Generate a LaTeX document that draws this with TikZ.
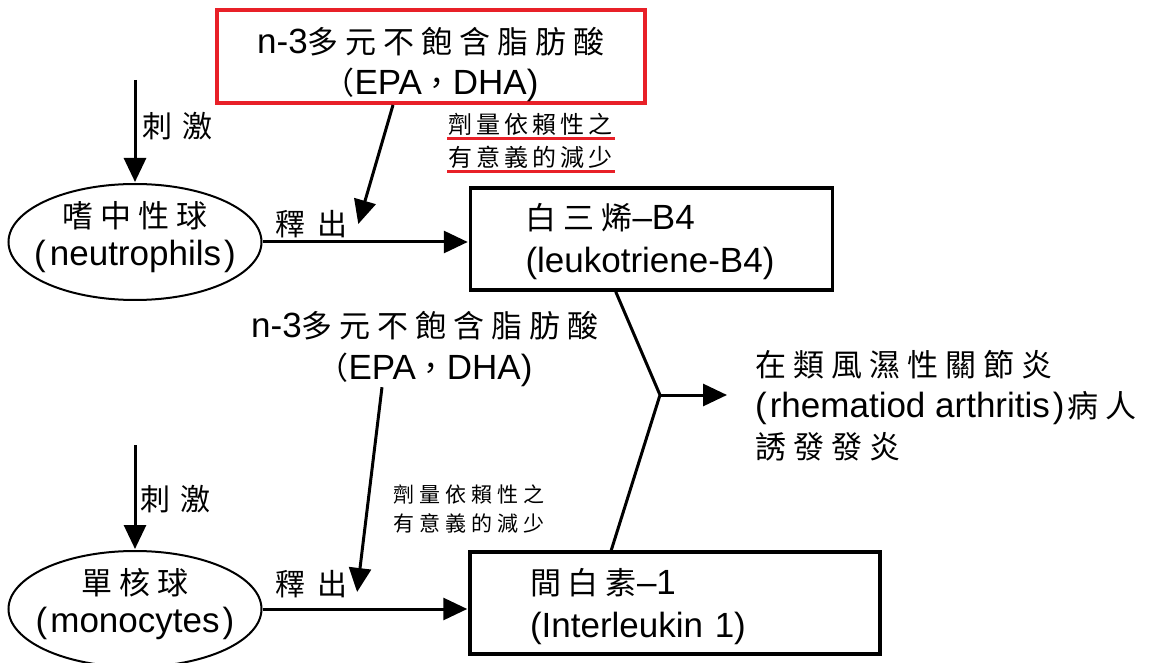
\documentclass[tikz,border=0pt]{standalone}
\usepackage{fontspec}
\setmainfont{Liberation Sans}
\newfontfamily\cjkfont{Noto Sans CJK TC}
\usetikzlibrary{arrows.meta,shapes.geometric}
\definecolor{redc}{RGB}{232,32,40}
\makeatletter
\newcommand\zhgen[3]{{\cjkfont\fontsize{#1}{#1}\selectfont\def\zh@sep{\hspace{#2}}\zh@first#3\relax}}
\def\zh@first#1{#1\zh@rest}
\def\zh@rest#1{\ifx#1\relax\else\zh@sep#1\expandafter\zh@rest\fi}
\makeatother
\newcommand\zhL[1]{\zhgen{31}{7pt}{#1}}
\newcommand\zhR[1]{\zhgen{24}{4pt}{#1}}
\newcommand\zhT[1]{\zhgen{21}{5pt}{#1}}
\begin{document}
\begin{tikzpicture}[x=1pt,y=-1pt,
  every node/.style={inner sep=0pt},
  boxnode/.style={draw,line width=3.5pt,minimum height=102pt,
    align=left,text height=33pt,text depth=51pt,
    font=\fontsize{35}{43}\selectfont},
  redbox/.style={draw=redc,line width=4pt,minimum width=428pt,minimum height=93pt,
    align=center,text height=85pt,text depth=8pt,font=\fontsize{35}{41}\selectfont},
  cell/.style={ellipse,draw,line width=2pt,minimum width=253pt,minimum height=116pt,
    inner xsep=-40pt,inner ysep=0pt,align=center,font=\fontsize{35}{38}\selectfont},
  plain/.style={align=center,font=\fontsize{35}{42}\selectfont},
  arr/.style={line width=3pt,-{Triangle[length=24pt,width=22pt]},shorten >=1pt},
  ln/.style={line width=3pt},
  redline/.style={draw=redc,line width=3pt},
]
\useasboundingbox[fill=white] (0,0) rectangle (1163,663);

% nodes
\node[redbox] (top) at (431,56.5)
  {n-3\zhL{多元不飽含脂肪酸}\\\zhL{（}EPA\zhL{，}DHA)};
\node[cell,text height=56pt,text depth=8pt] (e1) at (135,242)
  {\zhL{嗜中性球}\\(\hspace{4pt}neutrophils\hspace{3pt})};
\node[cell,text height=54pt,text depth=8pt] (e2) at (135,609)
  {\zhL{單核球}\\(\hspace{3pt}monocytes\hspace{3pt})};
\node[boxnode,minimum width=362pt,text width=252pt] (box1) at (651.5,239)
  {\zhL{白三烯}–B4\\(leukotriene-B4)};
\node[boxnode,minimum width=410pt,text width=290pt] (box2) at (675,603)
  {\zhL{間白素}–1\\(Interleukin 1)};
\node[plain,text height=72pt,text depth=8pt] (n3b) at (425,347)
  {n-3\zhL{多元不飽含脂肪酸}\\\zhL{（}EPA\zhL{，}DHA)};
\node[anchor=north west,align=left,text height=112pt,text depth=8pt,
  font=\fontsize{35}{41}\selectfont] (res) at (755,346)
  {\zhL{在類風濕性關節炎}\\(\hspace{3pt}rhematiod arthritis\hspace{3pt})\hspace{3pt}\zhL{病人}\\\zhL{誘發發炎}};

% small labels
\node[anchor=base west] (stim1) at (142,138) {\zhgen{30}{10pt}{刺激}};
\node[anchor=base west] (stim2) at (140,510) {\zhgen{30}{10pt}{刺激}};
\node[anchor=base west] (rel1) at (275,236) {\zhgen{30}{12pt}{釋出}};
\node[anchor=base west] (rel2) at (275,595) {\zhgen{30}{12pt}{釋出}};
\node[anchor=base west] (dr1) at (448,134) {\zhR{劑量依賴性之}};
\node[anchor=base west] (dr2) at (448,167) {\zhR{有意義的減少}};
\node[anchor=base west] (dl1) at (393,502) {\zhT{劑量依賴性之}};
\node[anchor=base west] (dl2) at (393,531) {\zhT{有意義的減少}};

\draw[redline] ([xshift=-1pt,yshift=-4.5pt]dr1.base west) -- ([xshift=3pt,yshift=-4.5pt]dr1.base east);
\draw[redline] ([xshift=-1pt,yshift=-4.5pt]dr2.base west) -- ([xshift=3pt,yshift=-4.5pt]dr2.base east);

% coordinates
\coordinate (s1) at (135,80);
\coordinate (s2) at (135,445);
\coordinate (t1) at (358,225);
\coordinate (t2) at (357,593);
\coordinate (j) at (660,395);
\coordinate (o) at (728,395);

% connectors
\draw[arr] (s1) -- (e1.north);
\draw[arr] (s2) -- (e2.north);
\draw[arr] (e1.east) -- (e1.east -| box1.west);
\draw[arr] (e2.east) -- (e2.east -| box2.west);
\draw[arr] ([xshift=-38pt]top.south) -- (t1);
\draw[arr] ([xshift=-43pt]n3b.south) -- (t2);
\draw[ln,line join=miter] ([xshift=147pt]box1.south west) -- (j) -- ([xshift=143pt]box2.north west);
\draw[arr] (j) -- (o);
\end{tikzpicture}
\end{document}
